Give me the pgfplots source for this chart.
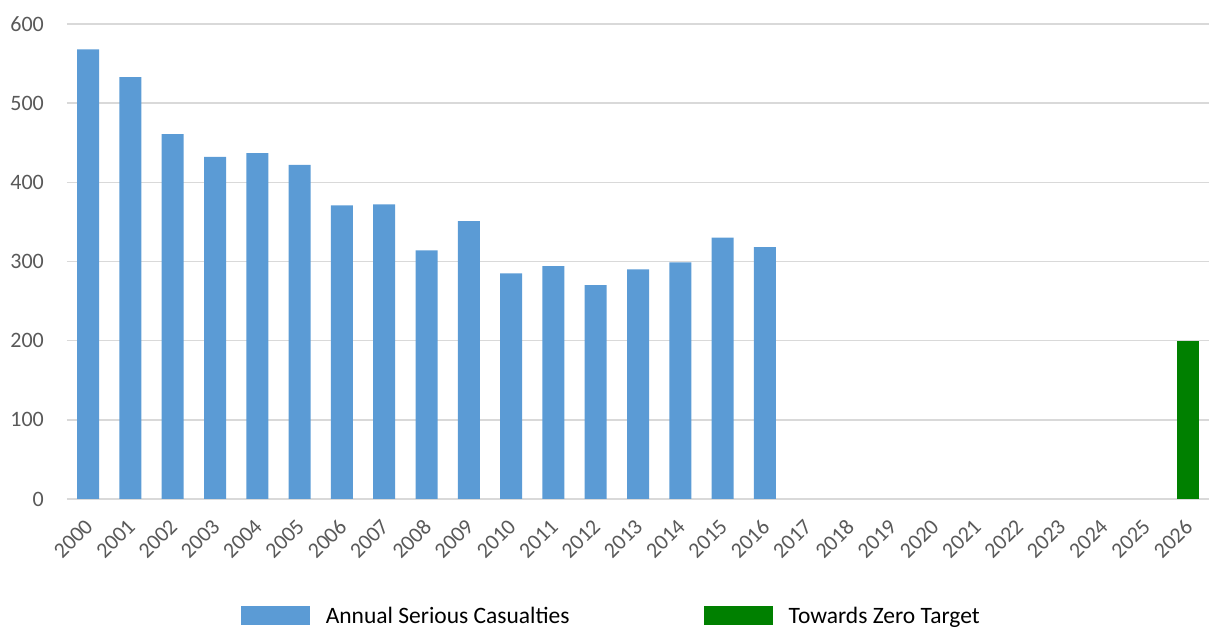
\documentclass[border=0pt]{standalone}
\usepackage{fontspec}
\setmainfont{Carlito}
\usepackage{pgfplots}
\pgfplotsset{compat=1.18}
\definecolor{barblue}{HTML}{5B9BD5}
\definecolor{bargreen}{HTML}{008000}
\definecolor{gridgray}{HTML}{D9D9D9}
\definecolor{labelgray}{HTML}{595959}
\begin{document}
\begin{tikzpicture}
\begin{axis}[
    name=ax,
    scale only axis,
    width=1142pt, height=475pt,
    xmin=-0.5, xmax=26.5,
    ymin=0, ymax=600,
    ytick={0,100,...,600},
    xtick={0,...,26},
    xticklabel={\pgfmathtruncatemacro\yr{2000+\tick}\yr},
    axis x line*=bottom, axis y line*=left,
    x axis line style={-, draw=gridgray, line width=1.5pt},
    y axis line style={draw=none},
    major tick length=0pt,
    ymajorgrids,
    grid style={draw=gridgray, line width=1.5pt},
    tick label style={font=\fontsize{22}{26}\selectfont, text=labelgray},
    yticklabel style={anchor=east, inner sep=0pt, xshift=-23pt},
    xticklabel style={xshift=1pt, yshift=-24pt, rotate=45, anchor=east, inner sep=0pt},
    /pgf/number format/assume math mode=true,
    legend style={at={(0.152,-0.246)}, anchor=west, draw=none, inner sep=0pt,
        font=\fontsize{23.5}{27}\selectfont, text=black,
        /tikz/every even column/.append style={column sep=134pt},
        nodes={inner sep=0pt}},
    legend columns=2,
    legend image code/.code={\fill[#1] (0pt,-9.5pt) rectangle (69pt,9.5pt); \path[draw=none, fill=none] (0pt,0pt) -- (85pt,0pt);},
]
\addplot[ybar, bar shift=0pt, bar width=22pt, fill=barblue, draw=none] coordinates {
(0,568) (1,533) (2,461) (3,432) (4,437) (5,422) (6,371) (7,372) (8,314)
(9,351) (10,285) (11,294) (12,270) (13,290) (14,299) (15,330) (16,318)
};
\addlegendentry{Annual Serious Casualties}
\addplot[ybar, bar shift=0pt, bar width=22pt, fill=bargreen, draw=none] coordinates {
(26,200)
};
\addlegendentry{Towards Zero Target}
\end{axis}
\pgfresetboundingbox
\path[use as bounding box] (ax.south west) ++(-67pt,-129pt) rectangle ++(1212pt,628pt);
\end{tikzpicture}
\end{document}
